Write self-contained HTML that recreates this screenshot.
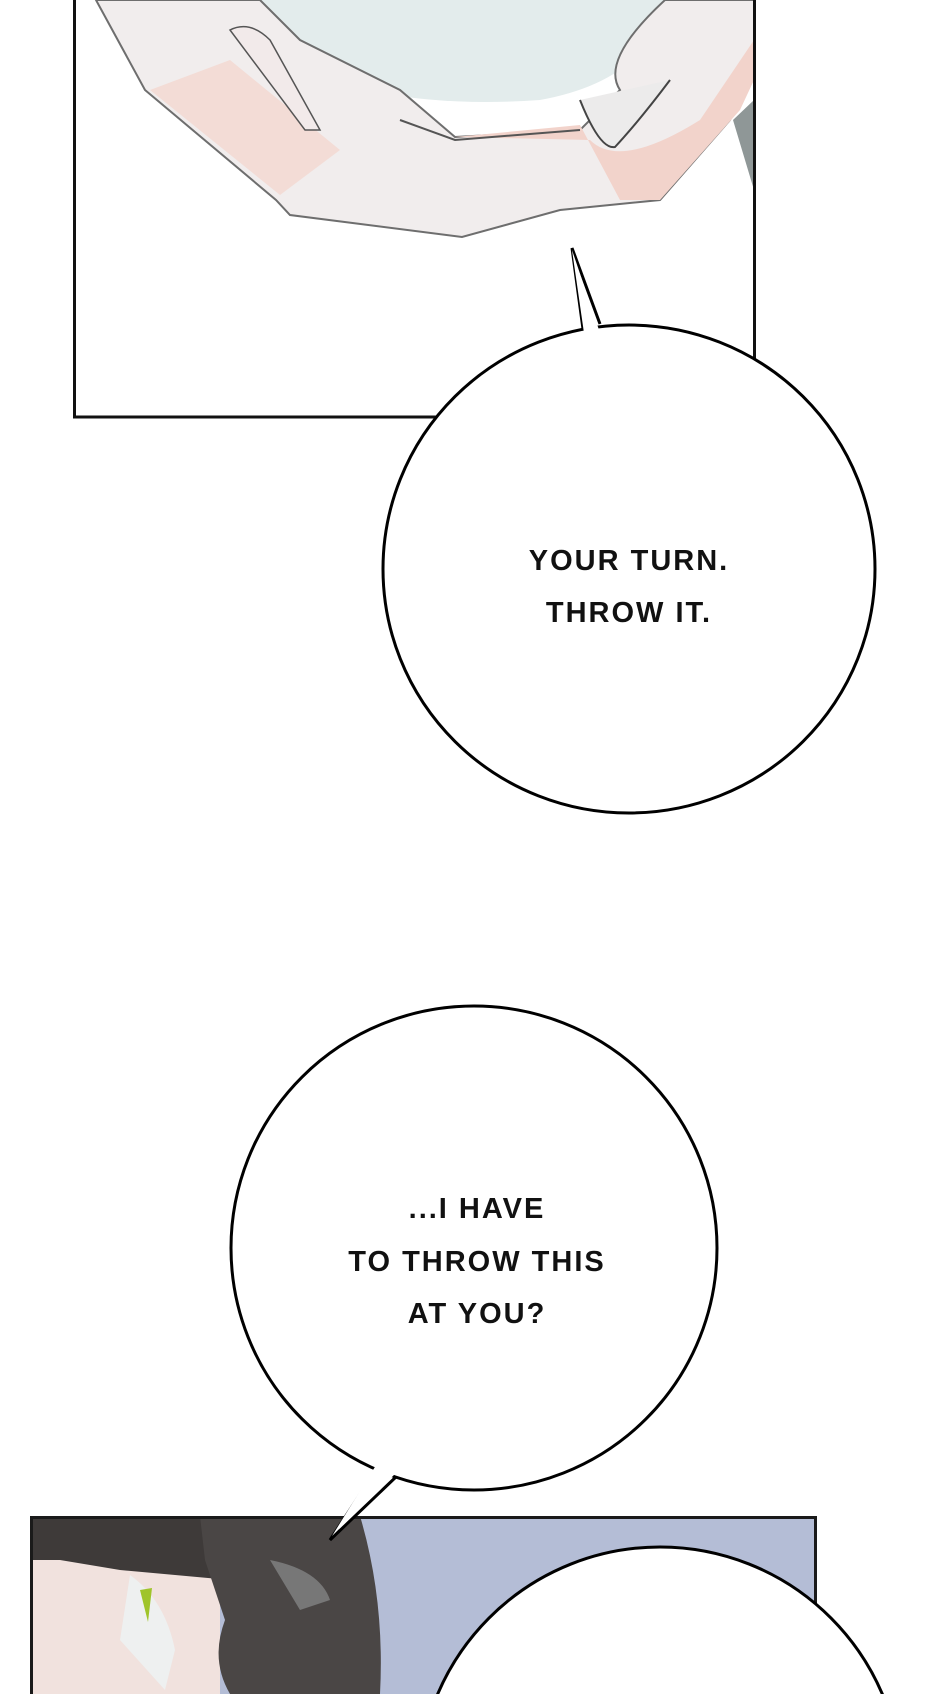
<!DOCTYPE html>
<html><head><meta charset="utf-8"><style>
html,body{margin:0;padding:0;background:#fff;}
body{width:940px;height:1694px;overflow:hidden;position:relative;}
svg{position:absolute;left:0;top:0;}
</style></head><body>
<svg width="940" height="1694" viewBox="0 0 940 1694" xmlns="http://www.w3.org/2000/svg">
<defs><clipPath id="c"><rect x="0" y="0" width="940" height="1694"/></clipPath></defs>
<g clip-path="url(#c)">
<rect x="0" y="0" width="940" height="1694" fill="#fff"/>
<g>
  <polygon points="733,120 754,100 754,190" fill="#8f9797"/>
  <path d="M228,0 L665,0 Q650,80 540,100 Q400,110 300,70 Q240,40 228,0 Z" fill="#e3ecec"/>
  <path d="M96,0 L145,90 L276,200 L290,215 L462,237 L560,210 L660,200 L730,120 L754,60 L754,0 L665,0 Q600,60 620,90 L580,130 L455,137 L400,90 L300,40 L260,0 Z" fill="#f1eded" stroke="#6e6e6e" stroke-width="2"/>
  <path d="M150,90 L280,195 L340,150 L230,60 Z" fill="#f3dcd6"/>
  <path d="M455,137 L580,125 L620,200 L660,200 L740,110 L754,80 L754,40 L700,120 Q620,170 590,140 Z" fill="#f2d3cb"/>
  <path d="M400,120 L455,140 L580,130" fill="none" stroke="#555" stroke-width="2"/>
  <path d="M580,100 Q600,150 615,147 Q640,120 670,80" fill="#ecebeb" stroke="#444" stroke-width="2"/>
  <path d="M230,30 Q250,20 270,40 L320,130 L305,130 Z" fill="#f2eaea" stroke="#555" stroke-width="1.5"/>
</g>
<rect x="74.5" y="-5" width="680" height="422" fill="none" stroke="#111" stroke-width="3"/>

<path d="M583,329 L572,248 L600,324" fill="#fff" stroke="#000" stroke-width="3"/>
<ellipse cx="629" cy="569" rx="246" ry="244" fill="#fff" stroke="#000" stroke-width="3"/>
<path d="M584,333 L572,250 L599,330 Z" fill="#fff"/>
<text x="629" y="570" text-anchor="middle" font-family="Liberation Sans, sans-serif" font-size="29" font-weight="bold" letter-spacing="2" fill="#111">YOUR TURN.</text>
<text x="629" y="622" text-anchor="middle" font-family="Liberation Sans, sans-serif" font-size="29" font-weight="bold" letter-spacing="2" fill="#111">THROW IT.</text>

<rect x="30" y="1516" width="787" height="178" fill="#b4bdd6"/>
<rect x="30" y="1516" width="190" height="178" fill="#f1e2de"/>
<path d="M30,1516 L220,1516 L230,1580 L120,1570 L60,1560 L30,1560 Z" fill="#3e3a39"/>
<path d="M130,1575 Q165,1600 175,1650 L165,1690 L120,1640 Z" fill="#eef0f0"/>
<polygon points="140,1590 152,1588 148,1622" fill="#9fc42a"/>
<path d="M200,1516 L360,1516 Q385,1600 380,1694 L230,1694 Q210,1660 225,1620 L205,1560 Z" fill="#4a4645"/>
<path d="M270,1560 Q320,1570 330,1600 L300,1610 Z" fill="#777"/>
<path d="M31.5,1694 L31.5,1517.5 L815.5,1517.5 L815.5,1694" fill="none" stroke="#1a1a1a" stroke-width="3"/>
<ellipse cx="660" cy="1790" rx="242" ry="243" fill="#fff" stroke="#000" stroke-width="3"/>

<path d="M378,1467 L330,1540 L398,1475" fill="#fff" stroke="#000" stroke-width="3"/>
<ellipse cx="474" cy="1248" rx="243" ry="242" fill="#fff" stroke="#000" stroke-width="3"/>
<path d="M378,1462 L332,1536 L397,1472 Z" fill="#fff"/>
<text x="477" y="1218" text-anchor="middle" font-family="Liberation Sans, sans-serif" font-size="29" font-weight="bold" letter-spacing="2" fill="#111">...I HAVE</text>
<text x="477" y="1271" text-anchor="middle" font-family="Liberation Sans, sans-serif" font-size="29" font-weight="bold" letter-spacing="2" fill="#111">TO THROW THIS</text>
<text x="477" y="1323" text-anchor="middle" font-family="Liberation Sans, sans-serif" font-size="29" font-weight="bold" letter-spacing="2" fill="#111">AT YOU?</text>
</g>
</svg>
</body></html>
